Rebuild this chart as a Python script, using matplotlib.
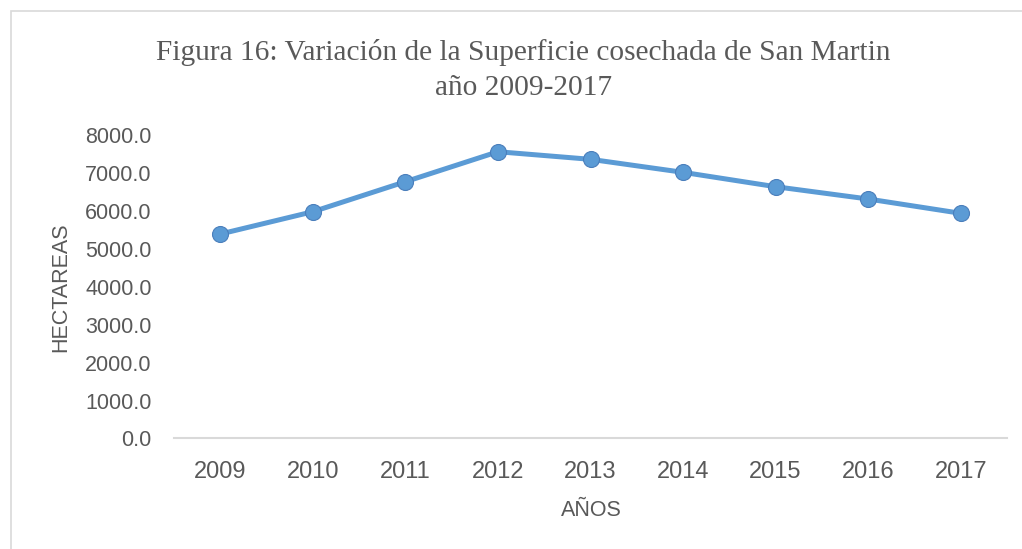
import matplotlib.pyplot as plt
from matplotlib.patches import Rectangle

# Datos
anios = ['2009', '2010', '2011', '2012', '2013', '2014', '2015', '2016', '2017']
hectareas = [5390, 5978, 6769, 7559, 7359, 7016, 6637, 6313, 5936]
yticks = [0, 1000, 2000, 3000, 4000, 5000, 6000, 7000, 8000]

gris = '#595959'

fig = plt.figure(figsize=(10.22, 5.49), dpi=100)
ax = fig.add_axes([0.1703, 0.2013, 0.8150, 0.5528])

# borde del grafico
fig.patches.append(Rectangle((11/1022, -0.5), 2, 1.5 - 11/549, transform=fig.transFigure,
                             fill=False, edgecolor='#D9D9D9', linewidth=1.2))

x = range(len(anios))
ax.plot(x, hectareas, color='#5B9BD5', linewidth=3.6, marker='o', markersize=11.5,
        markerfacecolor='#5B9BD5', markeredgecolor='#4A7EBB', markeredgewidth=0.8,
        solid_capstyle='round')

ax.set_xlim(-0.5, len(anios) - 0.5)
ax.set_ylim(0, 8000)
ax.set_xticks(list(x))
ax.set_xticklabels(anios, fontfamily='Liberation Sans', fontsize=17, color=gris)
ax.set_yticks(yticks)
ax.set_yticklabels([f'{v:.1f}' for v in yticks], fontfamily='Liberation Sans', fontsize=15.5, color=gris)
ax.tick_params(axis='both', length=0)
ax.tick_params(axis='y', pad=16)
ax.tick_params(axis='x', pad=16)

for s in ['top', 'right', 'left']:
    ax.spines[s].set_visible(False)
ax.spines['bottom'].set_color('#D9D9D9')
ax.spines['bottom'].set_linewidth(1.5)

ax.set_ylabel('HECTAREAS', fontfamily='Liberation Sans', fontsize=15.5, color=gris)
ax.yaxis.set_label_coords(-0.123, 0.5)
ax.set_xlabel('AÑOS', fontfamily='Liberation Sans', fontsize=15.5, color=gris)
ax.xaxis.set_label_coords(0.501, -0.203)

fig.text(523/1022, 1 - 52/549, 'Figura 16: Variación de la Superficie cosechada de San Martin',
         ha='center', va='center', fontfamily='Liberation Serif', fontsize=21.2, color=gris)
fig.text(524/1022, 1 - 88/549, 'año 2009-2017',
         ha='center', va='center', fontfamily='Liberation Serif', fontsize=21.2, color=gris)

fig.savefig('out.png', dpi=100)
